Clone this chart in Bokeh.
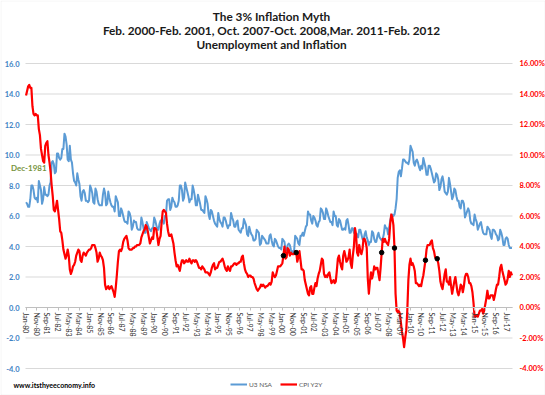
from bokeh.plotting import figure
from bokeh.models import (Range1d, LinearAxis, FixedTicker, PrintfTickFormatter, Label,
                          Legend, LegendItem, BoxAnnotation)
from bokeh.core.properties import value
from bokeh.embed import file_html
from bokeh.resources import INLINE

# ---------------- data ----------------
START_YEAR = 1980
MONTH_ABBR = ["Jan", "Feb", "Mar", "Apr", "May", "Jun", "Jul", "Aug", "Sep", "Oct", "Nov", "Dec"]

TICK_LABELS = ["Jan-80", "Nov-80", "Sep-81", "Jul-82", "May-83", "Mar-84", "Jan-85", "Nov-85",
               "Sep-86", "Jul-87", "May-88", "Mar-89", "Jan-90", "Nov-90", "Sep-91", "Jul-92",
               "May-93", "Mar-94", "Jan-95", "Nov-95", "Sep-96", "Jul-97", "May-98", "Mar-99",
               "Jan-00", "Nov-00", "Sep-01", "Jul-02", "May-03", "Mar-04", "Jan-05", "Nov-05",
               "Sep-06", "Jul-07", "May-08", "Mar-09", "Jan-10", "Nov-10", "Sep-11", "Jul-12",
               "May-13", "Mar-14", "Jan-15", "Nov-15", "Sep-16", "Jul-17"]

Y_TICKS = [-4, -2, 0, 2, 4, 6, 8, 10, 12, 14, 16]

# U3 unemployment rate, not seasonally adjusted (%)
U3_NSA_1980S = [
    6.9, 6.8, 6.6, 6.6, 7.1, 8.0, 8.0, 7.7, 7.2, 7.1, 7.2, 6.9,
    8.3, 8.0, 7.7, 6.8, 7.1, 7.9, 7.4, 7.4, 7.3, 7.4, 8.0, 8.2,
    9.5, 9.6, 9.4, 8.8, 8.9, 10.1, 10.1, 9.8, 9.7, 9.8, 10.4, 10.4,
    11.4, 11.2, 10.7, 9.7, 9.6, 10.6, 9.7, 9.5, 8.8, 8.3, 8.2, 8.0,
    8.8, 8.4, 8.1, 7.3, 7.0, 7.6, 7.7, 7.5, 7.0, 7.0, 6.9, 7.0,
    8.0, 7.8, 7.5, 6.9, 6.8, 7.8, 7.6, 7.1, 6.8, 6.7, 6.7, 6.7,
    7.4, 7.8, 7.5, 6.7, 6.8, 7.6, 7.2, 6.9, 6.7, 6.6, 6.6, 6.3,
    7.3, 7.1, 6.9, 6.0, 6.0, 6.5, 6.3, 6.0, 5.7, 5.6, 5.6, 5.5,
    6.3, 6.2, 5.9, 5.1, 5.3, 5.7, 5.6, 5.6, 5.2, 5.1, 5.1, 5.1,
    5.9, 5.6, 5.2, 4.9, 4.9, 5.6, 5.4, 5.2, 5.1, 5.0, 5.2, 5.2,
]
U3_NSA_1990S = [
    5.9, 5.7, 5.4, 5.1, 5.1, 5.5, 5.7, 5.7, 5.7, 5.5, 6.0, 6.0,
    7.0, 7.1, 7.1, 6.4, 6.6, 7.2, 7.0, 6.9, 6.6, 6.6, 6.7, 7.0,
    8.0, 8.0, 7.7, 7.0, 7.2, 8.2, 7.9, 7.6, 7.3, 6.9, 7.1, 7.1,
    8.0, 7.7, 7.3, 6.7, 6.7, 7.4, 7.1, 6.8, 6.4, 6.4, 6.3, 6.2,
    7.3, 7.1, 6.8, 6.1, 5.8, 6.4, 6.3, 6.0, 5.7, 5.5, 5.4, 5.3,
    6.2, 5.8, 5.6, 5.5, 5.3, 5.9, 5.9, 5.7, 5.4, 5.2, 5.4, 5.4,
    6.2, 5.9, 5.7, 5.3, 5.3, 5.6, 5.7, 5.1, 5.0, 4.9, 5.2, 5.2,
    5.8, 5.6, 5.4, 4.8, 4.7, 5.3, 5.0, 4.8, 4.7, 4.4, 4.4, 4.5,
    5.1, 5.0, 4.9, 4.1, 4.2, 4.7, 4.6, 4.5, 4.4, 4.2, 4.2, 4.2,
    4.7, 4.8, 4.4, 4.1, 4.0, 4.5, 4.4, 4.2, 4.0, 3.9, 3.9, 3.8,
]
U3_NSA_2000S = [
    4.5, 4.4, 4.3, 3.7, 3.8, 4.1, 4.2, 4.1, 3.8, 3.6, 3.7, 3.7,
    4.7, 4.6, 4.5, 4.2, 4.1, 4.7, 4.7, 4.9, 4.7, 5.0, 5.3, 5.4,
    6.3, 6.1, 6.1, 5.7, 5.5, 6.0, 5.9, 5.7, 5.4, 5.3, 5.6, 5.7,
    6.5, 6.4, 6.2, 5.8, 5.8, 6.5, 6.3, 6.0, 5.8, 5.6, 5.6, 5.4,
    6.3, 6.0, 6.0, 5.4, 5.3, 5.8, 5.7, 5.4, 5.1, 5.1, 5.2, 5.1,
    5.7, 5.8, 5.4, 4.9, 4.9, 5.2, 5.2, 4.9, 4.8, 4.6, 4.8, 4.6,
    5.1, 5.1, 4.8, 4.5, 4.4, 4.8, 5.0, 4.6, 4.4, 4.1, 4.3, 4.3,
    5.0, 4.9, 4.5, 4.3, 4.3, 4.7, 4.9, 4.6, 4.5, 4.4, 4.5, 4.8,
    5.4, 5.2, 5.2, 4.8, 5.2, 5.7, 6.0, 6.1, 6.0, 6.1, 6.5, 7.1,
    8.5, 8.9, 9.0, 8.6, 9.1, 9.7, 9.7, 9.6, 9.5, 9.5, 9.4, 9.7,
]
U3_NSA_2010S = [
    10.6, 10.4, 10.2, 9.5, 9.3, 9.6, 9.7, 9.5, 9.2, 9.0, 9.3, 9.1,
    9.8, 9.5, 9.2, 8.7, 8.7, 9.3, 9.3, 9.1, 8.8, 8.5, 8.2, 8.3,
    8.8, 8.7, 8.4, 7.7, 7.9, 8.4, 8.6, 8.2, 7.6, 7.5, 7.4, 7.6,
    8.5, 8.1, 7.6, 7.1, 7.3, 7.8, 7.7, 7.3, 7.0, 7.0, 6.6, 6.5,
    7.0, 7.0, 6.8, 5.9, 6.1, 6.3, 6.5, 6.3, 5.7, 5.5, 5.5, 5.4,
    6.1, 5.8, 5.6, 5.1, 5.3, 5.5, 5.6, 5.2, 4.9, 4.8, 4.8, 4.8,
    5.3, 5.2, 5.1, 4.7, 4.5, 5.1, 5.1, 5.0, 4.8, 4.7, 4.4, 4.5,
    5.1, 4.9, 4.6, 4.1, 4.1, 4.5, 4.6, 4.5, 4.1, 3.9, 3.9, 3.9,
]

# CPI, year-over-year change (%)
CPI_Y2Y_1980S = [
    13.9, 14.2, 14.5, 14.6, 14.4, 14.4, 13.2, 12.7, 12.6, 12.7, 12.6, 12.6,
    11.7, 11.3, 10.4, 10.0, 9.6, 9.5, 10.6, 10.8, 10.9, 10.0, 9.5, 8.9,
    8.0, 7.3, 6.4, 6.3, 6.6, 7.0, 6.4, 5.8, 5.0, 4.9, 4.4, 3.8,
    3.5, 3.2, 3.4, 3.8, 3.4, 2.5, 2.2, 2.4, 2.7, 2.8, 3.0, 3.4,
    3.6, 3.8, 3.7, 3.1, 3.0, 3.4, 3.6, 3.5, 3.4, 3.6, 3.7, 3.8,
    3.8, 3.9, 4.1, 4.1, 4.1, 3.9, 3.6, 3.0, 3.2, 3.6, 3.4, 3.3,
    3.1, 2.6, 1.5, 1.2, 1.3, 1.4, 1.2, 1.3, 1.4, 1.2, 1.0, 0.7,
    1.3, 2.1, 3.0, 3.7, 3.8, 3.7, 3.9, 4.3, 4.5, 4.6, 4.7, 4.4,
    3.9, 3.8, 3.8, 3.8, 3.9, 3.9, 4.0, 4.0, 4.1, 4.1, 4.1, 4.2,
    4.6, 4.8, 5.0, 5.1, 5.4, 5.3, 5.0, 4.6, 4.2, 4.4, 4.6, 4.5,
]
CPI_Y2Y_1990S = [
    5.2, 5.2, 5.1, 4.6, 4.1, 4.5, 4.7, 5.6, 6.3, 6.4, 6.3, 6.2,
    5.5, 5.0, 4.7, 4.7, 4.8, 4.5, 4.2, 3.6, 3.1, 2.7, 2.8, 2.6,
    2.4, 2.8, 3.1, 3.1, 2.9, 3.0, 3.1, 3.0, 3.0, 3.2, 3.0, 2.9,
    3.1, 3.1, 3.0, 3.1, 3.0, 2.8, 2.6, 2.6, 2.5, 2.7, 2.6, 2.5,
    2.3, 2.3, 2.3, 2.2, 2.1, 2.3, 2.6, 2.8, 2.9, 2.5, 2.6, 2.6,
    2.8, 3.0, 3.0, 3.1, 3.2, 3.0, 2.7, 2.5, 2.4, 2.7, 2.5, 2.4,
    2.7, 2.7, 2.8, 2.9, 2.9, 2.8, 2.9, 2.9, 3.0, 3.0, 3.3, 3.4,
    2.9, 2.5, 2.3, 2.2, 2.0, 2.1, 2.1, 2.0, 2.0, 1.9, 1.6, 1.4,
    1.2, 1.1, 1.2, 1.3, 1.5, 1.4, 1.5, 1.4, 1.3, 1.4, 1.4, 1.5,
    1.6, 1.5, 1.7, 2.3, 2.1, 2.0, 2.1, 2.4, 2.7, 2.7, 2.7, 2.8,
]
CPI_Y2Y_2000S = [
    2.9, 3.4, 4.0, 3.2, 3.3, 3.9, 3.8, 3.4, 3.6, 3.5, 3.5, 3.5,
    3.7, 3.6, 3.0, 3.3, 3.7, 3.1, 2.5, 2.5, 2.4, 1.8, 1.5, 1.2,
    0.9, 0.8, 1.3, 1.4, 0.9, 0.9, 1.3, 1.6, 1.4, 1.9, 2.2, 2.4,
    2.8, 3.2, 3.1, 2.2, 2.0, 2.1, 2.0, 2.2, 2.3, 1.9, 1.6, 1.7,
    1.8, 1.6, 1.7, 2.4, 3.2, 3.4, 3.0, 2.7, 2.5, 3.4, 3.7, 3.4,
    3.0, 3.1, 3.3, 3.8, 2.9, 2.6, 3.4, 4.0, 5.2, 4.8, 3.6, 3.4,
    4.1, 3.7, 3.5, 3.8, 4.5, 4.5, 4.3, 3.9, 1.9, 0.9, 1.7, 2.3,
    1.9, 2.2, 2.7, 2.5, 2.6, 2.6, 2.2, 1.8, 2.6, 3.6, 4.5, 4.3,
    4.5, 4.3, 4.2, 4.1, 4.5, 5.5, 6.1, 5.9, 5.4, 3.9, 0.9, -0.2,
    -0.3, -0.2, -0.4, -1.0, -1.6, -2.0, -2.6, -2.0, -1.5, -0.2, 1.8, 2.8,
]
CPI_Y2Y_2010S = [
    3.2, 2.8, 2.9, 2.7, 2.4, 1.6, 1.6, 1.5, 1.4, 1.5, 1.4, 1.8,
    2.1, 2.6, 3.1, 3.8, 4.1, 4.1, 4.1, 4.3, 4.4, 3.9, 3.7, 3.3,
    3.2, 3.2, 2.9, 2.4, 1.7, 1.4, 1.2, 1.7, 2.2, 2.5, 1.7, 1.7,
    1.5, 2.0, 1.4, 0.9, 1.3, 1.7, 2.0, 1.5, 1.0, 0.8, 1.1, 1.5,
    1.4, 1.0, 1.4, 2.0, 2.2, 2.2, 2.0, 1.6, 1.6, 1.4, 1.0, 0.3,
    -0.6, -0.6, -0.5, -0.6, -0.4, -0.2, -0.2, -0.1, -0.4, -0.2, 0.2, 0.6,
    1.1, 0.6, 0.6, 0.8, 0.8, 0.8, 0.5, 0.8, 1.2, 1.5, 1.5, 2.0,
    2.6, 2.8, 2.4, 2.1, 1.8, 1.5, 1.6, 1.9, 2.4, 2.0, 2.3, 2.1,
]

HIGHLIGHT_MONTHS = ["Feb-00", "Feb-01", "Oct-07", "Oct-08", "Mar-11", "Feb-12"]
ANNOTATED_MONTH = "Dec-81"
ANNOTATION_TEXT = "Dec-1981"

TITLE_LINES = ["The 3% Inflation Myth",
               "Feb. 2000-Feb. 2001, Oct. 2007-Oct. 2008,Mar. 2011-Feb. 2012",
               "Unemployment and Inflation"]
FOOTER = "www.itsthyeeconomy.info"
SERIES_NAMES = ["U3 NSA", "CPI Y2Y"]

# ---------------- layout (pixels inside the canvas) ----------------
W, H = 545, 395
PLOT_LEFT, PLOT_RIGHT = 25, 512
PLOT_TOP, PLOT_BOTTOM = 63, 368
TITLE_X = 271
TITLE_Y = [15.5, 29.5, 44]
BOTTOM_ROW_Y = 384

FONT = "Lato"
BLUE = "#5B9BD5"
RED = "#FF0000"
GRID = "#D9D9D9"

# ---------------- derived ----------------
u3 = U3_NSA_1980S + U3_NSA_1990S + U3_NSA_2000S + U3_NSA_2010S
cpi = CPI_Y2Y_1980S + CPI_Y2Y_1990S + CPI_Y2Y_2000S + CPI_Y2Y_2010S
n = len(u3)
month_labels = [f"{MONTH_ABBR[i % 12]}-{(START_YEAR + i // 12) % 100:02d}" for i in range(n)]
xs = list(range(n))
tick_pos = [month_labels.index(t) for t in TICK_LABELS]
dot_x = [month_labels.index(m) for m in HIGHLIGHT_MONTHS]
dot_y = [cpi[i] for i in dot_x]
ann_i = month_labels.index(ANNOTATED_MONTH)

x_lo, x_hi = -0.5, n - 0.5
y_lo, y_hi = Y_TICKS[0], Y_TICKS[-1]
ppx = (PLOT_RIGHT - PLOT_LEFT) / (x_hi - x_lo)
ppy = (PLOT_BOTTOM - PLOT_TOP) / (y_hi - y_lo)
x_range = Range1d(x_lo - PLOT_LEFT / ppx, x_hi + (W - PLOT_RIGHT) / ppx)
y_range = Range1d(y_lo - (H - PLOT_BOTTOM) / ppy, y_hi + PLOT_TOP / ppy)

p = figure(width=W, height=H, output_backend="svg", toolbar_location=None,
           x_range=x_range, y_range=y_range, x_axis_type=None, y_axis_type=None,
           min_border_left=0, min_border_right=0, min_border_top=0, min_border_bottom=0)
p.outline_line_color = None
p.background_fill_color = "white"
p.border_fill_color = "white"
p.xgrid.visible = False
p.ygrid.visible = False

# faint chart-area border
p.add_layout(BoxAnnotation(left=0.5, right=W - 0.5, bottom=0.5, top=H - 0.5,
                           left_units="screen", right_units="screen",
                           bottom_units="screen", top_units="screen",
                           fill_alpha=0, line_color="#D9D9D9", line_width=1))

# horizontal gridlines across the plot area only
p.segment(x0=[x_lo] * len(Y_TICKS), x1=[x_hi] * len(Y_TICKS), y0=Y_TICKS, y1=Y_TICKS,
          line_color=GRID, line_width=1)

# left value labels
p.text(x=[x_lo] * len(Y_TICKS), y=Y_TICKS, text=[f"{v:.1f}" for v in Y_TICKS],
       x_offset=-6, text_align="right", text_baseline="middle", text_font=value(FONT),
       text_font_style="bold", text_font_size="7.5px", text_color="#3E82C4")

yticker = FixedTicker(ticks=Y_TICKS)
right_axis = LinearAxis(ticker=yticker, formatter=PrintfTickFormatter(format="%.2f%%"),
                        fixed_location=x_hi,
                        axis_line_color=None, major_tick_line_color=None, minor_tick_line_color=None,
                        major_label_text_font=FONT, major_label_text_font_style="bold",
                        major_label_text_font_size="7.5px", major_label_text_color=RED,
                        major_label_standoff=1)
p.add_layout(right_axis, "right")

x_axis = LinearAxis(ticker=FixedTicker(ticks=tick_pos),
                    major_label_overrides={pos: lab for pos, lab in zip(tick_pos, TICK_LABELS)},
                    fixed_location=0, bounds=(x_lo, x_hi), major_label_orientation="vertical",
                    axis_line_color="#BFBFBF", major_tick_line_color="#BFBFBF",
                    major_tick_in=0, major_tick_out=3, minor_tick_line_color=None,
                    major_label_text_font=FONT, major_label_text_font_size="7px",
                    major_label_text_color="#333333", major_label_standoff=2)
p.add_layout(x_axis, "below")

blue = p.line(xs, u3, line_color=BLUE, line_width=2, line_join="round")
red = p.line(xs, cpi, line_color=RED, line_width=2.2, line_join="round")
p.scatter(dot_x, dot_y, size=4.5, fill_color="black", line_color="black")

p.text(x=[ann_i], y=[cpi[ann_i]], text=[ANNOTATION_TEXT], x_offset=-4, y_offset=-4,
       text_align="right", text_baseline="middle", text_font=value(FONT),
       text_font_style="bold", text_font_size="8px", text_color="#77933C")

for txt, ty in zip(TITLE_LINES, TITLE_Y):
    p.add_layout(Label(x=TITLE_X, y=H - ty, x_units="screen", y_units="screen", text=txt,
                       text_align="center", text_baseline="middle", text_font=FONT,
                       text_font_style="bold", text_font_size="11.8px", text_color="#1a1a1a"))

p.add_layout(Label(x=13, y=H - BOTTOM_ROW_Y, x_units="screen", y_units="screen", text=FOOTER,
                   text_align="left", text_baseline="middle", text_font=FONT,
                   text_font_style="bold", text_font_size="7px", text_color="#000000"))

legend = Legend(items=[LegendItem(label=SERIES_NAMES[0], renderers=[blue]),
                       LegendItem(label=SERIES_NAMES[1], renderers=[red])],
                orientation="horizontal", location=(230, H - BOTTOM_ROW_Y - 5),
                glyph_width=17, glyph_height=10, label_standoff=2, spacing=8,
                padding=0, margin=0, border_line_color=None, background_fill_alpha=0,
                label_text_font=FONT, label_text_font_size="6.5px", label_text_color="#595959",
                label_height=10)
p.add_layout(legend)

open("out.html", "w").write(file_html(p, INLINE))
